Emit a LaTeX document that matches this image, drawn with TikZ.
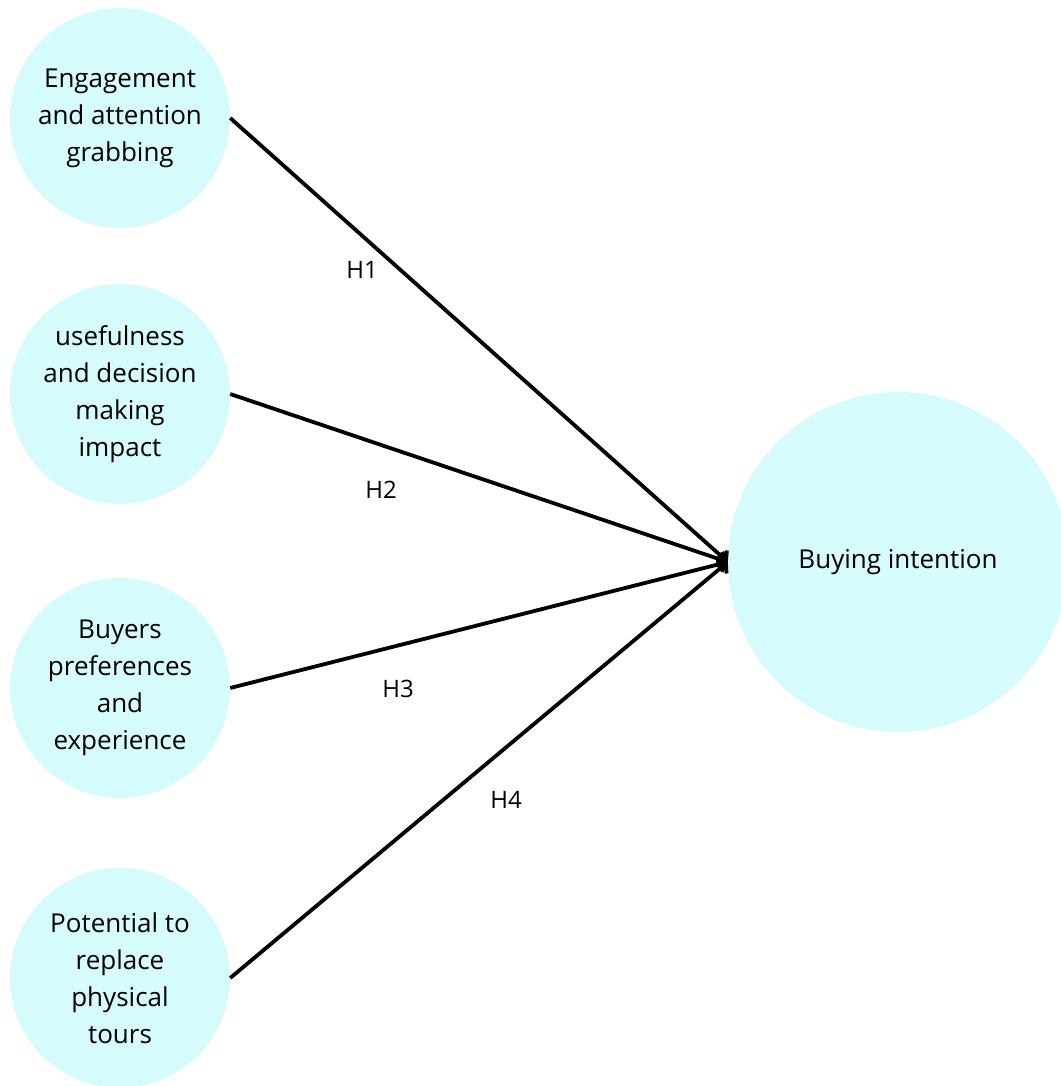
\documentclass[tikz,border=0pt]{standalone}
\usepackage{fontspec}
\setmainfont{Open Sans}
\usepackage{xcolor}
\usetikzlibrary{arrows.meta, positioning}
\definecolor{bubblecolor}{HTML}{D6FBFD}

\begin{document}
\begin{tikzpicture}[x=1pt, y=-1pt]
	\tikzstyle{factorc}=[circle, fill=bubblecolor, minimum size=220pt, inner sep=0pt, align=center, font=\fontsize{26}{37}\selectfont]
	\tikzstyle{hyp}=[line width=3.8pt, -{Straight Barb[length=6pt, width=16pt]}]
	\useasboundingbox (0,0) rectangle (1060,1086);
	\node (f1) at (120,118) [factorc]{Engagement\\and attention\\grabbing};
	\node (f2) at (120,394) [factorc]{usefulness\\and decision\\making\\impact};
	\node (f3) at (120,688) [factorc]{Buyers\\preferences\\and\\experience};
	\node (f4) at (120,978) [factorc]{Potential to\\replace\\physical\\tours};
	\node (bi) at (898,562) [factorc, minimum size=340pt]{Buying intention};
	
	\draw[hyp] (f1.east) -- (bi.west);
	\draw[hyp] (f2.east) -- (bi.west);
	\draw[hyp] (f3.east) -- (bi.west);
	\draw[hyp] (f4.east) -- (bi.west);
	
	\node (h1) at (362,270) [font=\fontsize{24}{28}\selectfont]{H1};
	\node (h2) at (381,490) [font=\fontsize{24}{28}\selectfont]{H2};
	\node (h3) at (398,689) [font=\fontsize{24}{28}\selectfont]{H3};
	\node (h4) at (506,800) [font=\fontsize{24}{28}\selectfont]{H4};
\end{tikzpicture}
\end{document}
